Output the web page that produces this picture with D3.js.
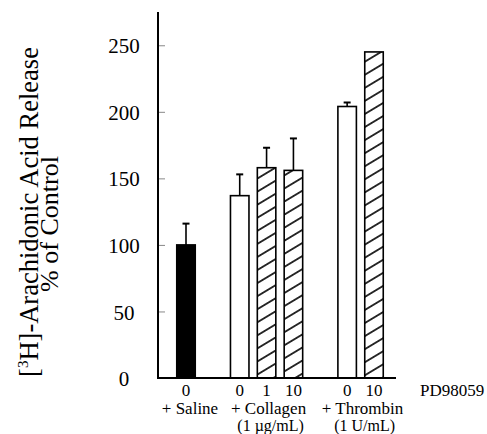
<!DOCTYPE html>
<html>
<head>
<meta charset="utf-8">
<script src="https://cdn.jsdelivr.net/npm/d3@7"></script>
<style>
  body { margin: 0; background: #fff; }
  text { font-family: "Liberation Serif" !important; }
</style>
</head>
<body>
<svg id="chart" width="487" height="434" font-family="Liberation Serif"></svg>
<script>
// data
const groups = ['+ Saline', '+ Collagen', '+ Thrombin'];
const groupNotes = ['', '(1 \u00b5g/mL)', '(1 U/mL)'];
const doses = [['0'], ['0', '1', '10'], ['0', '10']];
const values = [[100], [137, 158, 156], [204, 245]];
const errors = [[16], [16, 15, 24], [3, 0]];
const fills = [['black'], ['white', 'hatch', 'hatch'], ['white', 'hatch']];
const yTicks = [0, 50, 100, 150, 200, 250];

const svg = d3.select('#chart');

// flatten groups into bar slots, one empty slot between groups
let bars = [];
let slot = 0;
groups.forEach((g, gi) => {
  doses[gi].forEach((d, i) => {
    bars.push({ group: gi, dose: d, value: values[gi][i], err: errors[gi][i], fill: fills[gi][i], slot: slot });
    slot++;
  });
  slot++;
});
const lastSlot = d3.max(bars, d => d.slot);

const x = d3.scaleLinear().domain([0, lastSlot]).range([186, 374]);
const y = d3.scaleLinear().domain([0, 275]).range([378, 12]);
const barW = 18.5;

// hatch pattern
const defs = svg.append('defs');
const pat = defs.append('pattern')
  .attr('id', 'hatch')
  .attr('patternUnits', 'userSpaceOnUse')
  .attr('width', 11.2)
  .attr('height', 11.2)
  .attr('patternTransform', 'rotate(-31)');
pat.append('rect').attr('width', 11.2).attr('height', 11.2).attr('fill', 'white');
pat.append('line')
  .attr('x1', 0).attr('x2', 11.2).attr('y1', 5.6).attr('y2', 5.6)
  .attr('stroke', 'black').attr('stroke-width', 1.6);

// y axis (ticks point inward)
const yAxis = svg.append('g')
  .attr('transform', 'translate(158,0)')
  .call(d3.axisLeft(y).tickValues(yTicks).tickSize(-7).tickSizeOuter(0))
  .attr('font-family', 'Liberation Serif')
  .attr('font-size', 21);
yAxis.select('.domain').remove();
yAxis.selectAll('.tick line').attr('stroke', '#888').attr('stroke-width', 1);
yAxis.selectAll('.tick text')
  .attr('x', -34)
  .attr('dy', '0.36em')
  .attr('text-anchor', 'middle');

// error bars (upward only)
const eb = svg.append('g').selectAll('g')
  .data(bars.filter(d => d.err > 0))
  .join('g');
eb.append('line')
  .attr('x1', d => x(d.slot)).attr('x2', d => x(d.slot))
  .attr('y1', d => y(d.value)).attr('y2', d => y(d.value + d.err))
  .attr('stroke', 'black').attr('stroke-width', 1.6);
eb.append('line')
  .attr('x1', d => x(d.slot) - 3.5).attr('x2', d => x(d.slot) + 3.5)
  .attr('y1', d => y(d.value + d.err)).attr('y2', d => y(d.value + d.err))
  .attr('stroke', 'black').attr('stroke-width', 2);

// bars
svg.append('g').selectAll('rect')
  .data(bars)
  .join('rect')
  .attr('x', d => x(d.slot) - barW / 2)
  .attr('width', barW)
  .attr('y', d => y(d.value))
  .attr('height', d => y(0) - y(d.value))
  .attr('fill', d => d.fill === 'hatch' ? 'url(#hatch)' : d.fill)
  .attr('stroke', 'black')
  .attr('stroke-width', 1.6);

// axis lines
svg.append('line')
  .attr('x1', 158).attr('x2', 158).attr('y1', y.range()[1]).attr('y2', y(0) + 1)
  .attr('stroke', 'black').attr('stroke-width', 2);
svg.append('line')
  .attr('x1', 157).attr('x2', 396).attr('y1', y(0)).attr('y2', y(0))
  .attr('stroke', 'black').attr('stroke-width', 2.2);

// dose labels
svg.append('g').selectAll('text')
  .data(bars)
  .join('text')
  .attr('x', d => x(d.slot))
  .attr('y', 396)
  .attr('text-anchor', 'middle')
  .attr('font-size', 17)
  .text(d => d.dose);
svg.append('text')
  .attr('x', 420).attr('y', 396)
  .attr('font-size', 17)
  .text('PD98059');

// group labels
const groupCenters = groups.map((g, gi) => d3.mean(bars.filter(b => b.group === gi), b => x(b.slot)));
svg.append('g').selectAll('text')
  .data(groups)
  .join('text')
  .attr('x', (d, i) => groupCenters[i] + (i === 0 ? 4 : 2))
  .attr('y', 414)
  .attr('text-anchor', 'middle')
  .attr('font-size', 17)
  .text(d => d);
svg.append('g').selectAll('text')
  .data(groupNotes)
  .join('text')
  .attr('x', (d, i) => groupCenters[i] + 4)
  .attr('y', 431)
  .attr('text-anchor', 'middle')
  .attr('font-size', 16)
  .text(d => d);

// y title
const title = svg.append('text')
  .attr('transform', 'translate(38,212) rotate(-90)')
  .attr('text-anchor', 'middle')
  .attr('font-size', 26.5);
title.append('tspan').text('[');
title.append('tspan').attr('dy', -10).attr('font-size', 15).text('3');
title.append('tspan').attr('dy', 10).text('H]-Arachidonic Acid Release');
svg.append('text')
  .attr('transform', 'translate(58,224) rotate(-90)')
  .attr('text-anchor', 'middle')
  .attr('font-size', 26)
  .text('% of Control');
</script>
</body>
</html>
